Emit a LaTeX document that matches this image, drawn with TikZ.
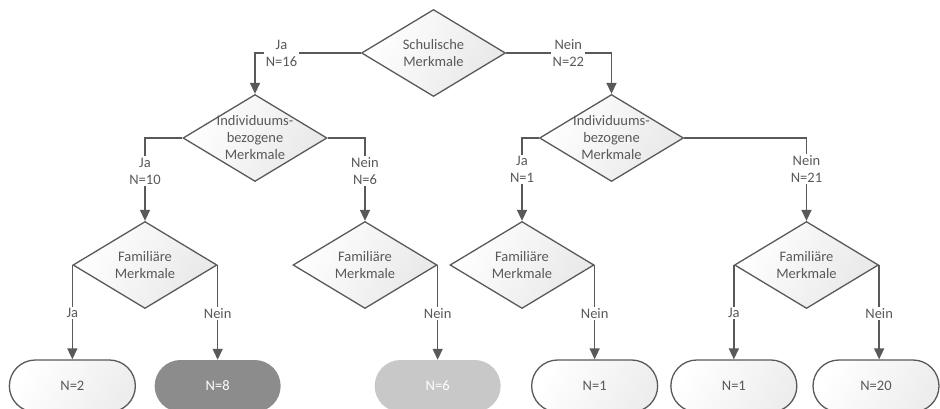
\documentclass[tikz,border=0pt]{standalone}
\usepackage{fontspec}
\setmainfont{Carlito}
\usetikzlibrary{shapes.geometric,arrows.meta}
\definecolor{ink}{HTML}{595959}
\definecolor{darkleaf}{HTML}{8C8C8C}
\definecolor{lightleaf}{HTML}{C8C8C8}
\begin{document}
\begin{tikzpicture}[x=1pt,y=-1pt,
  font=\fontsize{14.5}{17}\selectfont,
  every node/.style={text=ink},
  dia/.style={diamond, draw=ink, line width=1.3pt, inner sep=0pt,
    minimum width=144pt, minimum height=87pt,
    left color=white, right color=black!9, shading angle=60},
  txt/.style={align=center, inner sep=0pt},
  leaf/.style={rectangle, rounded corners=26pt, minimum width=126pt,
    minimum height=52pt, inner sep=0pt},
  plainleaf/.style={leaf, draw=ink, line width=1.3pt,
    left color=white, right color=black!7, shading angle=60},
  darkbox/.style={leaf, fill=darkleaf, text=white},
  lightbox/.style={leaf, fill=lightleaf, text=white},
  edge/.style={draw=ink, line width=1.5pt, -{Triangle[length=11pt,width=10pt]}},
  lab/.style={fill=white, align=center, inner sep=1.5pt}]
\useasboundingbox (0,0) rectangle (940,409);

% decision diamonds
\node[dia, label={[txt]center:Schulische\\Merkmale}] (top) at (433.5,53) {};
\node[dia, label={[txt]center:Individuums-\\bezogene\\Merkmale}] (i1) at (255,138) {};
\node[dia, label={[txt]center:Individuums-\\bezogene\\Merkmale}] (i2) at (611.5,138) {};
\node[dia, label={[txt]center:Familiäre\\Merkmale}] (f1) at (145,265) {};
\node[dia, label={[txt]center:Familiäre\\Merkmale}] (f2) at (365,265) {};
\node[dia, label={[txt]center:Familiäre\\Merkmale}] (f3) at (522,265) {};
\node[dia, label={[txt]center:Familiäre\\Merkmale}] (f4) at (806.5,265) {};

% terminal groups
\node[plainleaf] (l1) at (f1.west |- 0,386) {N=2};
\node[darkbox]   (l2) at (f1.east |- 0,386) {N=8};
\node[lightbox]  (l3) at (f2.east |- 0,386) {N=6};
\node[plainleaf] (l4) at (f3.east |- 0,386) {N=1};
\node[plainleaf] (l5) at (f4.west |- 0,386) {N=1};
\node[plainleaf] (l6) at (876,386) {N=20};

% first split
\draw[edge] (top.west) -| node[lab, pos=0.375] (ja16) {Ja\\N=16} (i1.north);
\draw[edge] (top.east) -| node[lab, pos=0.295] (nein22) {Nein\\N=22} (i2.north);

% second split
\draw[edge] (i1.west) -| node[lab, pos=0.70] (ja10) {Ja\\N=10} (f1.north);
\draw[edge] (i1.east) -| node[lab, pos=0.70] (nein6) {Nein\\N=6} (f2.north);
\draw[edge] (i2.west) -| node[lab, pos=0.69] (ja1) {Ja\\N=1} (f3.north);
\draw[edge] (i2.east) -| node[lab, pos=0.69] (nein21) {Nein\\N=21} (f4.north);

% third split
\draw[edge] (f1.west) -- node[lab, pos=0.51] (ja2) {Ja} (l1.north);
\draw[edge] (f1.east) -- node[lab, pos=0.51] (nein8) {Nein} (l2.north);
\draw[edge] (f2.east) -- node[lab, pos=0.51] (neinb) {Nein} (l3.north);
\draw[edge] (f3.east) -- node[lab, pos=0.51] (neinc) {Nein} (l4.north);
\draw[edge] (f4.west) -- node[lab, pos=0.51] (jad) {Ja} (f4.west |- l5.north);
\draw[edge] (f4.east) -- node[lab, pos=0.51] (neind) {Nein} (f4.east |- l6.north);
\end{tikzpicture}
\end{document}
